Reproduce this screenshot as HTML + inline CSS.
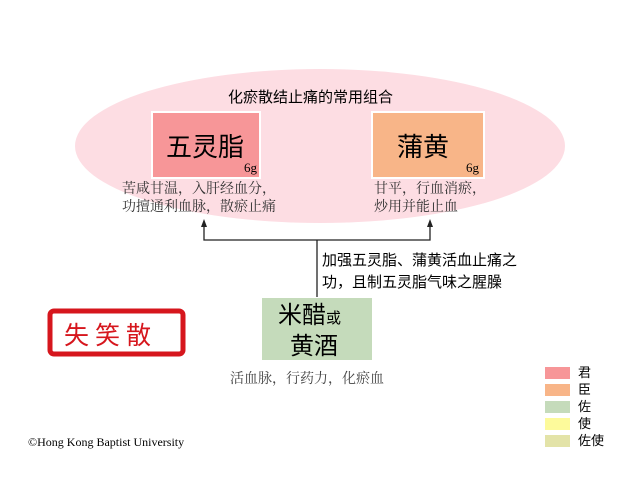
<!DOCTYPE html>
<html><head><meta charset="utf-8"><style>
body{margin:0;width:640px;height:480px;background:#fff;position:relative;overflow:hidden;font-family:"Liberation Serif","Noto Serif CJK SC","Noto Sans CJK SC",serif;}
.a{position:absolute;white-space:nowrap;}
.s{font-family:"Liberation Sans","Noto Sans CJK SC",sans-serif;}
.lg{position:absolute;left:545px;width:25px;height:12px;}
.lt{position:absolute;left:578px;font-size:13px;line-height:14px;font-family:"Liberation Sans","Noto Sans CJK SC",sans-serif;color:#000;}
</style></head><body>
<svg class="a" style="left:0;top:0" width="640" height="480">
<ellipse cx="320" cy="146" rx="245" ry="77" fill="#fddde3"/>
<rect x="152" y="112" width="108" height="66" fill="#f79698" stroke="#fff" stroke-width="2"/>
<rect x="372" y="112" width="112" height="66" fill="#f8b588" stroke="#fff" stroke-width="2"/>
<rect x="262" y="298" width="110" height="62" fill="#c5dbbb"/>
<polyline points="204,224 204,240 430,240 430,224" fill="none" stroke="#222" stroke-width="1.3"/>
<polygon points="204,219 201,227 207,227" fill="#222"/>
<polygon points="430,219 427,227 433,227" fill="#222"/>
<line x1="317" y1="240" x2="317" y2="297" stroke="#222" stroke-width="1.3"/>
<rect x="50" y="311" width="133" height="43" rx="4" fill="#fff" stroke="#d6161d" stroke-width="5"/>
</svg>
<div class="a s" style="left:228px;top:86px;font-size:15px;">化瘀散结止痛的常用组合</div>
<div class="a s" style="left:166px;top:127px;font-size:26px;">五灵脂</div>
<div class="a" style="left:244px;top:160px;font-size:13px;">6g</div>
<div class="a s" style="left:397px;top:127px;font-size:26px;">蒲黄</div>
<div class="a" style="left:466px;top:160px;font-size:13px;">6g</div>
<div class="a" style="left:122px;top:181px;font-size:14px;line-height:18px;color:#333;">苦咸甘温，入肝经血分，<br>功擅通利血脉，散瘀止痛</div>
<div class="a" style="left:374px;top:181px;font-size:14px;line-height:18px;color:#333;">甘平，行血消瘀，<br>炒用并能止血</div>
<div class="a s" style="left:322px;top:250px;font-size:15px;line-height:22px;">加强五灵脂、蒲黄活血止痛之<br>功，且制五灵脂气味之腥臊</div>
<div class="a s" style="left:278px;top:302px;font-size:24px;line-height:28px;">米醋<span style="font-size:15px">或</span><br><span style="padding-left:12px">黄酒</span></div>
<div class="a" style="left:230px;top:368px;font-size:14px;color:#444;">活血脉，行药力，化瘀血</div>
<div class="a s" style="left:64px;top:316px;font-size:25px;color:#d6161d;letter-spacing:6px;">失笑散</div>
<div class="a" style="left:28px;top:435px;font-size:12px;">©Hong Kong Baptist University</div>
<div class="lg" style="top:367px;background:#f79698"></div><div class="lt" style="top:366px">君</div>
<div class="lg" style="top:384px;background:#f8b588"></div><div class="lt" style="top:383px">臣</div>
<div class="lg" style="top:401px;background:#c5dbbb"></div><div class="lt" style="top:400px">佐</div>
<div class="lg" style="top:418px;background:#fdfa9b"></div><div class="lt" style="top:417px">使</div>
<div class="lg" style="top:435px;background:#e3e3a8"></div><div class="lt" style="top:434px">佐使</div>
</body></html>
